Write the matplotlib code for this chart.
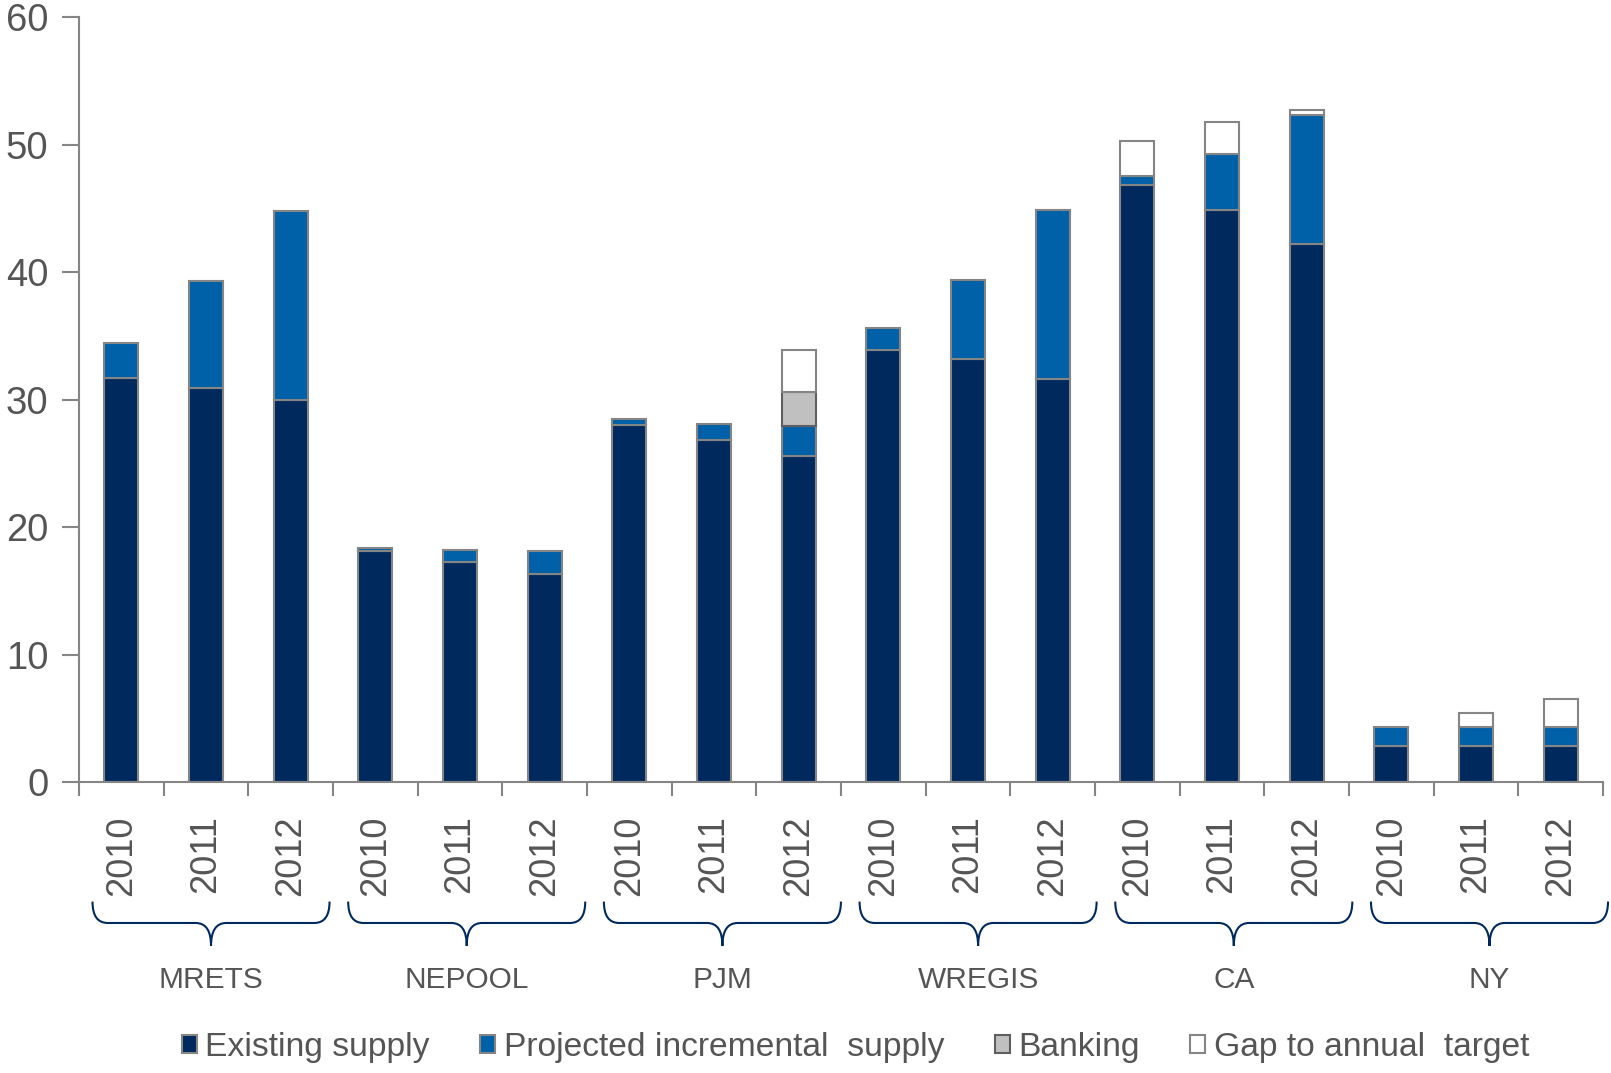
import matplotlib
matplotlib.use('Agg')
import matplotlib.pyplot as plt
import numpy as np
from matplotlib.path import Path
from matplotlib.patches import PathPatch
from matplotlib.transforms import blended_transform_factory

plt.rcParams['font.family'] = ['Liberation Sans', 'DejaVu Sans']

# Datos
groups = ['MRETS', 'NEPOOL', 'PJM', 'WREGIS', 'CA', 'NY']
years = ['2010', '2011', '2012'] * 6
existing = [31.7, 30.9, 30.0, 18.1, 17.3, 16.3, 28.05, 26.8, 25.6,
            33.9, 33.2, 31.6, 46.8, 44.9, 42.2, 2.85, 2.85, 2.85]
projected = [2.75, 8.4, 14.8, 0.3, 0.9, 1.8, 0.4, 1.3, 2.3,
             1.7, 6.2, 13.25, 0.75, 4.4, 10.1, 1.45, 1.45, 1.45]
banking = [0, 0, 0, 0, 0, 0, 0, 0, 2.7,
           0, 0, 0, 0, 0, 0, 0, 0, 0]
gap = [0, 0, 0, 0, 0, 0, 0, 0, 3.3,
       0, 0, 0, 2.75, 2.5, 0.4, 0, 1.1, 2.2]

navy = '#002A5E'
blue = '#0061A9'
edge = '#858585'
txt = '#555555'

fig = plt.figure(figsize=(16.11, 10.73), dpi=100)
ax = fig.add_axes([0.049, 0.271, 0.946, 0.713])

x = np.arange(len(years))
w = 0.4
existing = np.array(existing)
projected = np.array(projected)
banking = np.array(banking)
gap = np.array(gap)

ax.bar(x, existing, w, color=navy, edgecolor=edge, linewidth=1.5, label='Existing supply')
ax.bar(x, projected, w, bottom=existing, color=blue, edgecolor=edge, linewidth=1.5,
       label='Projected incremental  supply')
b = existing + projected
ax.bar(x[banking > 0], banking[banking > 0], w, bottom=b[banking > 0], color='#C0C0C0',
       edgecolor='#5F5F5F', linewidth=1.5, label='Banking')
b = b + banking
ax.bar(x[gap > 0], gap[gap > 0], w, bottom=b[gap > 0], color='white',
       edgecolor=edge, linewidth=1.5, label='Gap to annual  target')

ax.set_xlim(-0.5, len(years) - 0.5)
ax.set_ylim(0, 60)
ax.set_yticks(range(0, 61, 10))
ax.tick_params(axis='y', labelsize=27.5, labelcolor=txt, color=edge, length=12, width=1.5, pad=10)

# marcas entre categorias, etiquetas en el centro
ax.set_xticks(np.arange(-0.5, len(years), 1))
ax.set_xticklabels([])
ax.tick_params(axis='x', which='major', color=edge, length=10, width=1.5)
ax.set_xticks(x, minor=True)
ax.set_xticklabels(years, minor=True, rotation=90, fontsize=26, color=txt)
ax.tick_params(axis='x', which='minor', length=0, pad=24)

for s in ['top', 'right']:
    ax.spines[s].set_visible(False)
for s in ['left', 'bottom']:
    ax.spines[s].set_color(edge)
    ax.spines[s].set_linewidth(1.5)

# llaves debajo de cada grupo
tr = blended_transform_factory(ax.transData, ax.transAxes)
ytop, ymid, ytip = -0.156, -0.184, -0.214
r = 0.18
for i, g in enumerate(groups):
    c = 3 * i + 1 + 0.06 + 0.02 * i
    xl, xr = c - 1.4, c + 1.4
    verts = [(xl, ytop), (xl, ymid), (xl + r, ymid),
             (c - r, ymid), (c, ymid), (c, ytip),
             (c, ymid), (c + r, ymid),
             (xr - r, ymid), (xr, ymid), (xr, ytop)]
    codes = [Path.MOVETO, Path.CURVE3, Path.CURVE3,
             Path.LINETO, Path.CURVE3, Path.CURVE3,
             Path.CURVE3, Path.CURVE3,
             Path.LINETO, Path.CURVE3, Path.CURVE3]
    ax.add_patch(PathPatch(Path(verts, codes), facecolor='none', edgecolor=navy,
                           linewidth=1.5, transform=tr, clip_on=False))
    ax.text(c, -0.259, g, transform=tr, ha='center', va='center', fontsize=21.5, color=txt)

fig.legend(loc='center', bbox_to_anchor=(0.531, 0.024), ncol=4, frameon=False,
           fontsize=24.2, handlelength=0.45, handleheight=0.45, handletextpad=0.25,
           columnspacing=1.5, labelcolor=txt)

fig.savefig('out.png', dpi=100)
